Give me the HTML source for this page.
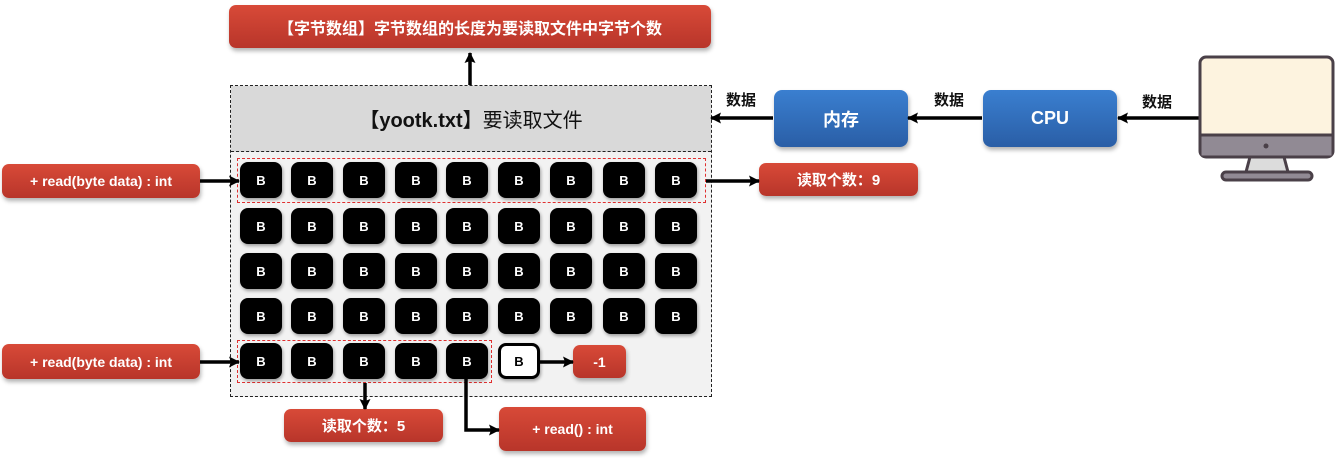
<!DOCTYPE html>
<html><head><meta charset="utf-8"><style>
*{margin:0;padding:0;box-sizing:border-box}
body{width:1339px;height:458px;background:#fff;position:relative;overflow:hidden;font-family:"Liberation Sans","Noto Sans CJK SC",sans-serif}
.a{position:absolute}
.red{position:absolute;background:linear-gradient(#d84a38,#b8352a);border-radius:7px;color:#fff;font-weight:bold;display:flex;align-items:center;justify-content:center;box-shadow:1px 3px 4px rgba(0,0,0,.3);font-size:14px}
.blue{position:absolute;background:linear-gradient(#3a7fd0,#2a5ea6);border-radius:8px;color:#fff;font-weight:bold;display:flex;align-items:center;justify-content:center;box-shadow:1px 3px 4px rgba(0,0,0,.3);font-size:18px}
.b{position:absolute;width:42px;height:36px;background:#000;border-radius:8px;color:#fff;font-weight:bold;font-size:13px;display:flex;align-items:center;justify-content:center;box-shadow:1px 2px 3px rgba(0,0,0,.35)}
.lbl{position:absolute;font-size:15px;font-weight:bold;color:#111}
</style></head><body>
<div class="red" style="left:229px;top:5px;width:482px;height:43px;font-size:16px">【字节数组】字节数组的长度为要读取文件中字节个数</div>
<div class="a" style="left:230px;top:85px;width:482px;height:312px;border:1px dashed #222;background:#f2f2f2"></div>
<div class="a" style="left:231px;top:86px;width:480px;height:66px;background:#d9d9d9;border-bottom:1px dashed #222;display:flex;align-items:center;justify-content:center;font-size:20px;color:#111"><b>【yootk.txt】</b>要读取文件</div>
<div class="a" style="left:237px;top:158px;width:469px;height:45px;border:1px dashed #e03030"></div>
<div class="a" style="left:237px;top:340px;width:255px;height:43px;border:1px dashed #e03030"></div>
<div id="g"></div>
<script>
var xs=[240,291,343,395,446,498,550,603,655],ys=[162,208,253,298,343],h='';
ys.forEach(function(y,r){xs.forEach(function(x,c){if(r==4&&c>5)return;
if(r==4&&c==5)h+='<div class="b" style="left:'+x+'px;top:'+y+'px;background:#fff;color:#000;border:3px solid #000">B</div>';
else h+='<div class="b" style="left:'+x+'px;top:'+y+'px">B</div>';});});
document.getElementById('g').innerHTML=h;
</script>
<div class="red" style="left:2px;top:164px;width:198px;height:34px">+ read(byte data) : int</div>
<div class="red" style="left:2px;top:344px;width:198px;height:35px">+ read(byte data) : int</div>
<div class="red" style="left:759px;top:163px;width:159px;height:33px;font-size:15px">读取个数：9</div>
<div class="red" style="left:573px;top:345px;width:53px;height:33px">-1</div>
<div class="red" style="left:284px;top:409px;width:159px;height:33px;font-size:15px">读取个数：5</div>
<div class="red" style="left:499px;top:407px;width:147px;height:44px">+ read() : int</div>
<div class="blue" style="left:774px;top:90px;width:134px;height:57px">内存</div>
<div class="blue" style="left:983px;top:90px;width:134px;height:57px">CPU</div>
<div class="lbl" style="left:726px;top:89px">数据</div>
<div class="lbl" style="left:934px;top:89px">数据</div>
<div class="lbl" style="left:1142px;top:91px">数据</div>
<svg class="a" style="left:0;top:0" width="1339" height="458">
<defs><marker id="m" markerWidth="11" markerHeight="11" refX="10" refY="5.5" orient="auto" markerUnits="userSpaceOnUse"><path d="M0,0L11,5.5L0,11L2,5.5z" fill="#000"/></marker></defs>
<g stroke="#000" stroke-width="3.5" fill="none" marker-end="url(#m)">
<line x1="470" y1="85" x2="470" y2="53"/>
<line x1="200" y1="181" x2="239" y2="181"/>
<line x1="200" y1="362" x2="239" y2="362"/>
<line x1="706" y1="181" x2="759" y2="181"/>
<line x1="540" y1="362" x2="573" y2="362"/>
<line x1="365" y1="383" x2="365" y2="409"/>
<polyline points="466,379 466,430 499,430"/>
<line x1="773" y1="118" x2="711" y2="118"/>
<line x1="982" y1="118" x2="908" y2="118"/>
<line x1="1200" y1="118" x2="1118" y2="118"/>
</g>
<g stroke="#4a4048" stroke-width="3">
<rect x="1200" y="57" width="133" height="100" rx="6" fill="#fdf3df"/>
<rect x="1201.5" y="135" width="130" height="20.5" fill="#918a94" stroke="none"/>
<line x1="1201" y1="135" x2="1332" y2="135"/>
<path d="M1250,157 L1246,172 L1288,172 L1284,157z" fill="#dcdcdc"/>
<rect x="1222" y="172" width="90" height="8" rx="4" fill="#918a94"/>
</g>
<circle cx="1266" cy="146" r="2.5" fill="#4a4048"/>
</svg>
</body></html>
